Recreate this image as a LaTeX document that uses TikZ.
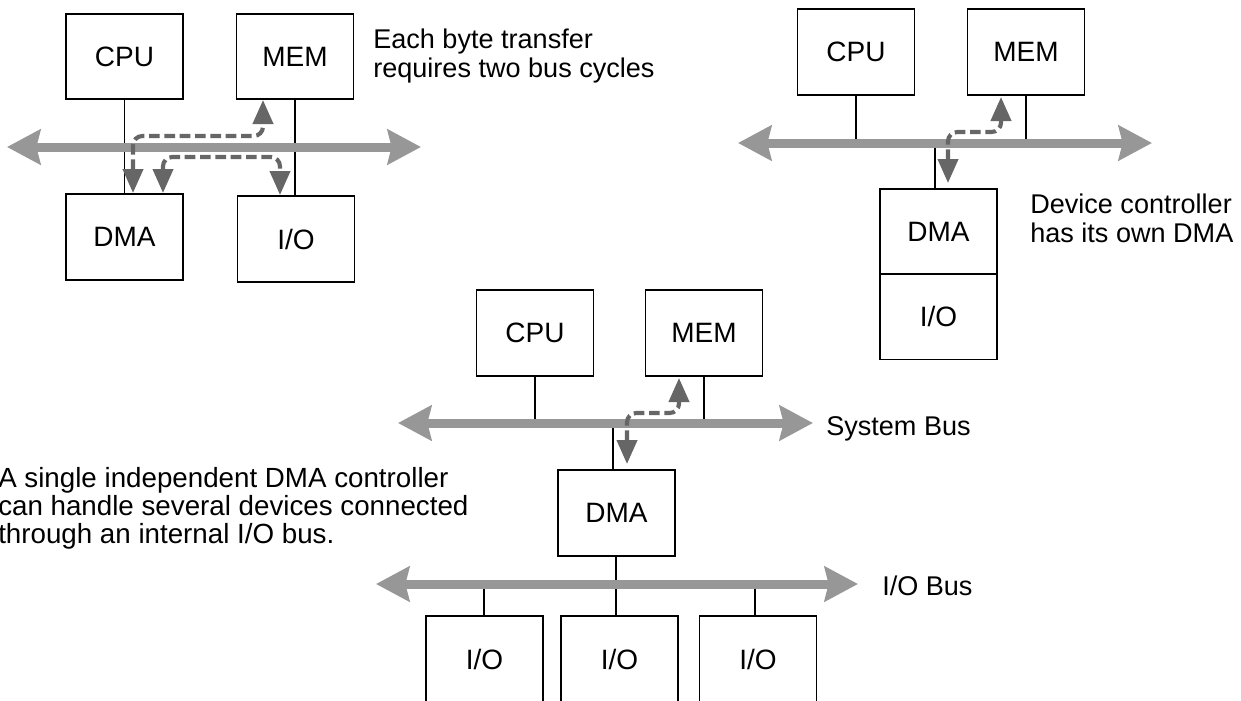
\documentclass[tikz,border=0pt]{standalone}
\usepackage{fontspec}
\setmainfont{Liberation Sans}
\usetikzlibrary{arrows.meta}
\definecolor{busgray}{HTML}{979797}
\definecolor{flowgray}{HTML}{666666}
\tikzset{
  unit/.style={draw, line width=1.4pt, outer sep=0pt, minimum width=87.75pt, minimum height=64pt,
    inner sep=0pt, font=\fontsize{21}{24}\selectfont},
  tap/.style={line width=1.1pt},
  bus/.style={draw=busgray, line width=6.75pt,
    {Stealth[length=25pt,width=26pt,inset=3pt]}-{Stealth[length=25pt,width=26pt,inset=3pt]}},
  flow/.style={draw=flowgray, line width=3.1pt, dash pattern=on 8pt off 3.5pt,
    rounded corners=7pt,
    {Triangle[length=18pt,width=15pt]}-{Triangle[length=18pt,width=15pt]}},
  note/.style={anchor=base west, inner sep=0pt, font=\fontsize{20.3}{24}\selectfont},
  bignote/.style={note, font=\fontsize{20.8}{24}\selectfont}
}
\begin{document}
\begin{tikzpicture}[x=0.75pt,y=-0.75pt]
\clip (0,0) rectangle (1241,700);

% ---------- CPU-driven DMA on the shared bus ----------
\node[unit] (cpuA) at (124.5,56.5) {CPU};
\node[unit] (memA) at (295,56.5) {MEM};
\node[unit] (dmaA) at (124.5,237) {DMA};
\node[unit] (ioA)  at (296,239) {I/O};
\coordinate (busAl) at (7,147);
\coordinate (busAr) at (421,147);
\draw[tap] (cpuA.south) -- (cpuA.south |- dmaA.north);
\draw[tap] (memA.south) -- (memA.south |- ioA.north);
\draw[bus] (busAl) -- (busAr);
\coordinate (fA1) at (133,193);
\coordinate (fA2) at (263,100);
\coordinate (fB1) at (163,193);
\coordinate (fB2) at (280,195);
\draw[flow] (fA1) -- (133,136) -- (263,136) -- (fA2);
\draw[flow] (fB1) -- (163,157) -- (280,157) -- (fB2);
\node[note] (noteA1) at (373,48) {Each byte transfer};
\node[note] (noteA2) at (373,77) {requires two bus cycles};

% ---------- controller with its own DMA ----------
\node[unit] (cpuB) at (856,52) {CPU};
\node[unit] (memB) at (1026,52) {MEM};
\node[unit] (dmaB) at (938.5,231.5) {DMA};
\node[unit, anchor=north] (ioB) at (dmaB.south) {I/O};
\coordinate (busBl) at (738,143);
\coordinate (busBr) at (1152,143);
\draw[tap] (cpuB.south) -- (cpuB.south |- busBl);
\draw[tap] (memB.south) -- (memB.south |- busBl);
\draw[tap] (935,143) -- (935,0 |- dmaB.north);
\draw[bus] (busBl) -- (busBr);
\coordinate (fC1) at (948,183);
\coordinate (fC2) at (1001,97);
\draw[flow] (fC1) -- (948,132) -- (1001,132) -- (fC2);
\node[note] (noteB1) at (1030,213) {Device controller};
\node[note] (noteB2) at (1030,242) {has its own DMA};

% ---------- independent DMA controller with an I/O bus ----------
\node[unit] (cpuC) at (535,333) {CPU};
\node[unit] (memC) at (704,333) {MEM};
\node[unit] (dmaC) at (616.5,513) {DMA};
\node[unit] (ioC1) at (484.5,659) {I/O};
\node[unit] (ioC2) at (619.5,659) {I/O};
\node[unit] (ioC3) at (758,659) {I/O};
\coordinate (busCl) at (398,423);
\coordinate (busCr) at (813,423);
\coordinate (iobl) at (376,584);
\coordinate (iobr) at (858,584);
\draw[tap] (cpuC.south) -- (cpuC.south |- busCl);
\draw[tap] (memC.south) -- (memC.south |- busCl);
\draw[tap] (613,423) -- (613,0 |- dmaC.north);
\draw[tap] (616,0 |- dmaC.south) -- (616,0 |- ioC2.north);
\draw[tap] (484,584) -- (484,0 |- ioC1.north);
\draw[tap] (755,584) -- (755,0 |- ioC3.north);
\draw[bus] (busCl) -- (busCr);
\draw[bus] (iobl) -- (iobr);
\coordinate (fD1) at (627,464);
\coordinate (fD2) at (679,378);
\draw[flow] (fD1) -- (627,413) -- (679,413) -- (fD2);
\node[note] (sysbus) at (826,435) {System Bus};
\node[note] (iobus) at (882,595) {I/O Bus};
\node[bignote] (noteC1) at (-2,487) {A single independent DMA controller};
\node[bignote] (noteC2) at (-2,515) {can handle several devices connected};
\node[bignote] (noteC3) at (-2,543) {through an internal I/O bus.};
\end{tikzpicture}
\end{document}
